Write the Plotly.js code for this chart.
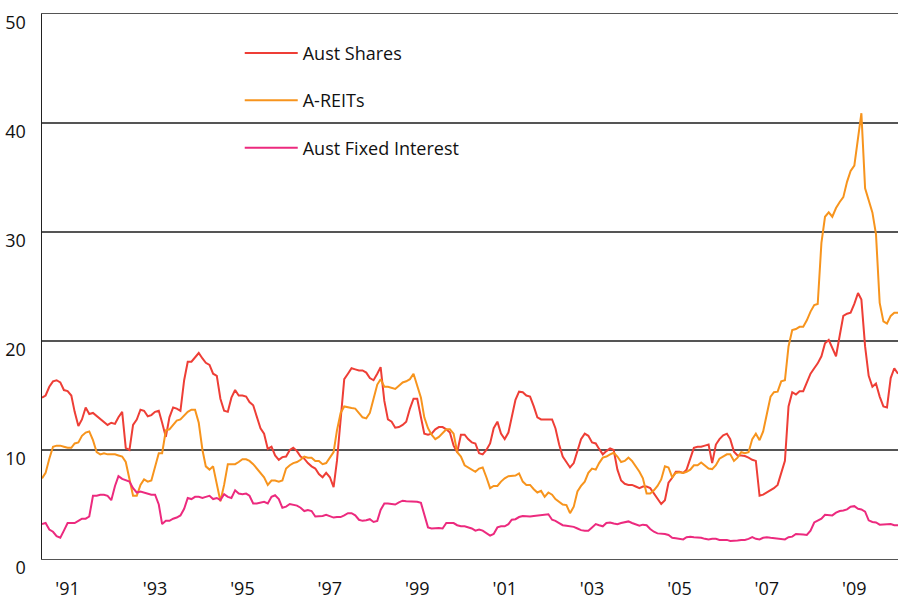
<!DOCTYPE html>
<html><head><meta charset="utf-8">
<script src="https://cdn.plot.ly/plotly-3.0.1.min.js"></script>
<style>html,body{margin:0;padding:0;background:#fff}#chart{width:898px;height:599px}</style>
</head><body><div id="chart"></div>
<script>
// Monthly series, first observation June 1990
const firstMonth = '1990-06';

const austShares = [
 14.8, 15.0, 15.8, 16.3, 16.4, 16.2, 15.5, 15.4, 15.0, 13.5,
 12.2, 12.8, 13.9, 13.3, 13.4, 13.1, 12.8, 12.5, 12.3, 12.5,
 12.4, 13.0, 13.5, 10.2, 10.0, 12.3, 12.8, 13.7, 13.6, 13.1,
 13.2, 13.5, 13.6, 12.5, 11.2, 13.0, 13.9, 13.8, 13.6, 16.4,
 18.1, 18.1, 18.5, 18.9, 18.4, 18.0, 17.8, 17.0, 16.8, 14.7,
 13.6, 13.5, 14.8, 15.5, 15.0, 15.0, 14.9, 14.4, 14.1, 13.0,
 12.0, 11.5, 10.1, 10.3, 9.5, 9.1, 9.35, 9.4, 10.0, 10.2,
 9.9, 9.4, 9.2, 8.8, 8.5, 8.3, 7.8, 7.5, 7.9, 7.5,
 6.6, 9.0, 12.5, 16.5, 17.0, 17.5, 17.4, 17.3, 17.3, 17.1,
 16.6, 16.4, 17.0, 17.6, 14.5, 12.8, 12.6, 12.05, 12.1, 12.3,
 12.6, 13.8, 14.7, 14.7, 13.0, 11.5, 11.4, 11.5, 11.9, 12.1,
 12.1, 11.9, 11.6, 10.4, 9.8, 11.4, 11.4, 11.0, 10.7, 10.6,
 9.7, 9.6, 10.0, 10.6, 12.0, 12.6, 11.5, 11.0, 11.6, 13.0,
 14.6, 15.35, 15.3, 15.0, 14.9, 14.0, 13.0, 12.8, 12.8, 12.75,
 12.8, 12.0, 10.5, 9.4, 8.9, 8.4, 8.8, 10.0, 11.0, 11.5,
 11.3, 10.7, 10.6, 10.1, 9.6, 9.9, 10.15, 10.0, 8.2, 7.2,
 6.9, 6.8, 6.8, 6.65, 6.5, 6.65, 6.65, 6.5, 6.0, 5.5,
 5.05, 5.4, 7.0, 7.45, 8.0, 8.0, 7.9, 8.2, 9.2, 10.2,
 10.3, 10.3, 10.4, 10.5, 8.8, 10.5, 11.0, 11.35, 11.5, 11.0,
 9.85, 9.5, 9.5, 9.45, 9.3, 9.1, 9.0, 5.8, 5.9, 6.1,
 6.25, 6.5, 6.8, 8.0, 9.0, 14.0, 15.3, 15.1, 15.4, 15.4,
 16.2, 17.0, 17.5, 17.95, 18.6, 19.8, 20.1, 19.4, 18.6, 20.5,
 22.3, 22.5, 22.6, 23.4, 24.4, 23.8, 19.5, 16.8, 15.8, 16.1,
 14.9, 14.0, 13.9, 16.6, 17.5, 17.0
];

const aReits = [
 7.4, 7.9, 9.2, 10.3, 10.4, 10.4, 10.3, 10.2, 10.2, 10.6,
 10.7, 11.3, 11.6, 11.7, 10.9, 9.8, 9.6, 9.7, 9.6, 9.6,
 9.6, 9.5, 9.4, 8.9, 7.2, 5.8, 5.8, 6.8, 7.3, 7.1,
 7.2, 8.5, 9.7, 9.7, 11.8, 11.9, 12.3, 12.7, 12.8, 13.2,
 13.5, 13.7, 13.7, 12.5, 10.0, 8.5, 8.2, 8.5, 7.0, 5.3,
 6.8, 8.7, 8.7, 8.7, 8.9, 9.15, 9.15, 9.0, 8.7, 8.3,
 7.9, 7.5, 6.8, 7.2, 7.2, 7.1, 7.2, 8.3, 8.6, 8.8,
 8.9, 9.1, 9.4, 9.3, 9.3, 9.0, 9.0, 8.7, 8.8, 9.25,
 9.8, 11.8, 13.4, 14.0, 13.9, 13.85, 13.8, 13.4, 13.0, 12.9,
 13.4, 14.7, 16.0, 16.5, 15.8, 15.8, 15.7, 15.6, 15.9, 16.2,
 16.3, 16.5, 17.0, 15.8, 14.8, 13.0, 12.0, 11.4, 11.0, 11.2,
 11.6, 11.9, 11.9, 11.5, 9.8, 9.4, 8.6, 8.4, 8.2, 8.0,
 8.3, 8.4, 7.5, 6.5, 6.7, 6.7, 7.1, 7.4, 7.6, 7.65,
 7.65, 7.85, 7.1, 6.8, 6.8, 6.4, 6.1, 6.25, 5.7, 6.1,
 5.9, 5.5, 5.2, 5.0, 4.95, 4.2, 4.8, 6.2, 6.7, 7.1,
 7.9, 8.3, 8.2, 8.8, 9.3, 9.4, 9.6, 9.75, 9.4, 8.9,
 9.0, 9.3, 9.0, 8.5, 8.0, 7.4, 6.0, 6.0, 6.3, 6.7,
 7.3, 8.5, 8.4, 7.5, 7.9, 7.95, 7.9, 8.0, 8.2, 8.6,
 8.6, 8.85, 8.6, 8.3, 8.25, 8.6, 9.2, 9.4, 9.6, 9.6,
 9.0, 9.3, 9.8, 9.7, 9.8, 11.0, 11.5, 10.9, 11.7, 13.3,
 14.9, 15.3, 15.35, 16.3, 16.4, 19.5, 21.0, 21.1, 21.3, 21.3,
 21.9, 22.7, 23.3, 23.4, 29.0, 31.4, 31.8, 31.4, 32.2, 32.75,
 33.2, 34.6, 35.6, 36.1, 38.5, 40.9, 34.0, 33.0, 31.8, 29.8,
 23.5, 21.8, 21.6, 22.3, 22.6, 22.6
];

const fixedInterest = [
 3.2, 3.3, 2.7, 2.5, 2.1, 1.95, 2.6, 3.3, 3.3, 3.3,
 3.5, 3.7, 3.7, 3.9, 5.8, 5.8, 5.9, 5.9, 5.8, 5.4,
 6.7, 7.6, 7.35, 7.2, 7.1, 6.5, 6.1, 6.2, 6.1, 6.0,
 5.9, 5.9, 5.0, 3.2, 3.5, 3.5, 3.7, 3.8, 4.0, 4.6,
 5.6, 5.5, 5.7, 5.7, 5.6, 5.7, 5.8, 5.5, 5.6, 5.4,
 5.95, 5.7, 5.6, 6.3, 6.0, 5.95, 6.0, 5.8, 5.1, 5.1,
 5.2, 5.25, 5.1, 5.7, 5.85, 5.5, 4.7, 4.8, 5.05, 5.0,
 4.9, 4.7, 4.4, 4.5, 4.4, 3.9, 3.9, 3.95, 4.05, 3.9,
 3.8, 3.85, 3.85, 4.0, 4.2, 4.2, 4.0, 3.6, 3.5, 3.55,
 3.65, 3.4, 3.5, 4.5, 5.1, 5.1, 5.05, 5.0, 5.2, 5.35,
 5.3, 5.3, 5.3, 5.25, 5.15, 4.0, 2.9, 2.8, 2.85, 2.85,
 2.8, 3.3, 3.3, 3.3, 3.1, 3.0, 3.0, 2.9, 2.8, 2.6,
 2.7, 2.6, 2.35, 2.15, 2.3, 2.9, 3.0, 3.0, 3.2, 3.6,
 3.65, 3.85, 3.95, 3.9, 3.9, 3.95, 4.0, 4.0, 4.05, 4.1,
 3.6, 3.5, 3.3, 3.1, 3.05, 3.0, 2.95, 2.8, 2.65, 2.6,
 2.6, 2.9, 3.2, 3.1, 3.0, 3.3, 3.35, 3.25, 3.2, 3.3,
 3.4, 3.45, 3.3, 3.2, 3.05, 3.15, 3.1, 2.75, 2.5, 2.35,
 2.35, 2.3, 2.2, 1.95, 1.9, 1.85, 1.8, 2.0, 2.05, 2.0,
 2.0, 1.95, 1.85, 1.8, 1.85, 1.85, 1.75, 1.75, 1.75, 1.65,
 1.65, 1.7, 1.75, 1.75, 1.85, 2.0, 1.85, 1.8, 1.95, 2.0,
 1.95, 1.9, 1.9, 1.8, 1.8, 2.0, 2.05, 2.3, 2.3, 2.25,
 2.2, 2.6, 3.35, 3.55, 3.7, 4.05, 4.05, 4.0, 4.25, 4.4,
 4.45, 4.55, 4.8, 4.85, 4.6, 4.55, 4.35, 3.55, 3.4, 3.35,
 3.15, 3.15, 3.2, 3.2, 3.1, 3.1
];

const seriesNames = ['Aust Shares', 'A-REITs', 'Aust Fixed Interest'];
const seriesColors = ['#ee3e36', '#f7941d', '#ec2a7e'];
const tickYears = [1991, 1993, 1995, 1997, 1999, 2001, 2003, 2005, 2007, 2009];
const tickLabels = ["'91", "'93", "'95", "'97", "'99", "'01", "'03", "'05", "'07", "'09"];
const yTicks = [0, 10, 20, 30, 40, 50];

function monthDates(first, n) {
  const parts = first.split('-').map(Number);
  const out = [];
  for (let i = 0; i < n; i++) {
    const m0 = parts[1] - 1 + i;
    const y = parts[0] + Math.floor(m0 / 12);
    const m = (m0 % 12) + 1;
    out.push(y + '-' + String(m).padStart(2, '0') + '-01');
  }
  return out;
}

const seriesValues = [austShares, aReits, fixedInterest];
const traces = seriesValues.map((vals, k) => ({
  type: 'scatter', mode: 'lines',
  x: monthDates(firstMonth, vals.length), y: vals,
  name: seriesNames[k], legendgroup: seriesNames[k],
  line: {color: seriesColors[k], width: 2},
  hoverinfo: 'skip'
}));

const layout = {
  width: 898, height: 599,
  margin: {l: 42, r: 0, t: 14, b: 40},
  paper_bgcolor: '#ffffff', plot_bgcolor: '#ffffff',
  font: {family: '"Open Sans", "Noto Sans", sans-serif', size: 18, color: '#111111'},
  showlegend: true,
  legend: {
    x: 0.231, y: 0.962, xanchor: 'left', yanchor: 'top',
    bgcolor: 'rgba(0,0,0,0)', borderwidth: 0,
    tracegroupgap: 21, itemwidth: 53,
    font: {size: 18, color: '#111111'}
  },
  xaxis: {
    type: 'date', range: ['1990-06-01', '2010-01-01'],
    tickmode: 'array', tickvals: tickYears.map(y => y + '-01-01'), ticktext: tickLabels,
    showgrid: false, zeroline: false,
    showline: true, linecolor: '#555555', linewidth: 1.3, mirror: true,
    ticks: '', ticklabelstandoff: 13, fixedrange: true
  },
  yaxis: {
    range: [0, 50], tickmode: 'array', tickvals: yTicks,
    showgrid: true, gridcolor: '#555555', gridwidth: 1.2,
    zeroline: false, showline: true, linecolor: '#222222', linewidth: 1.5,
    ticks: '', ticklabelstandoff: 11, ticklabelshift: 9, fixedrange: true
  }
};

Plotly.newPlot('chart', traces, layout, {displayModeBar: false, staticPlot: true});
</script>
</body></html>
